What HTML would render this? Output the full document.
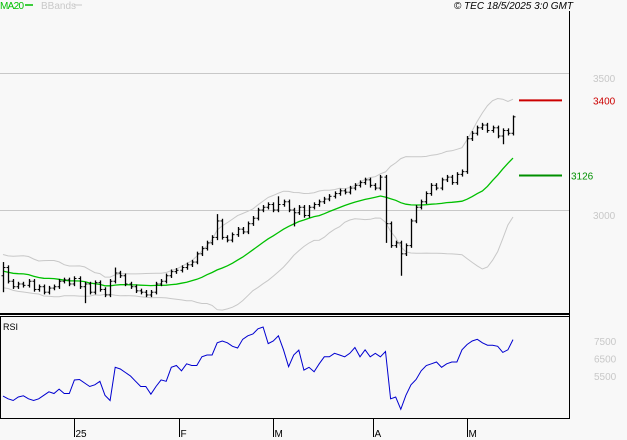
<!DOCTYPE html>
<html><head><meta charset="utf-8"><style>
body{margin:0;background:#f8f8f8;width:627px;height:440px;overflow:hidden;font-family:"Liberation Sans",sans-serif}
svg{display:block}
</style></head><body>
<svg id="c" width="627" height="440" viewBox="0 0 627 440">
<rect x="0" y="0" width="627" height="440" fill="#f8f8f8"/>
<text x="0" y="9" font-size="10" fill="#00c000" textLength="24">MA20</text>
<line x1="25" y1="5" x2="33" y2="5" stroke="#00c000" stroke-width="1.5"/>
<text x="41" y="9" font-size="10" fill="#c8c8c8">BBands</text>
<line x1="74" y1="5" x2="82" y2="5" stroke="#c8c8c8"/>
<text x="573" y="9" font-size="10" font-style="italic" text-anchor="end" fill="#000">© TEC 18/5/2025 3:0 GMT</text>
<line x1="569.5" y1="11" x2="569.5" y2="419" stroke="#000"/>
<g id="grid"></g>
<g id="bands"></g>
<g id="bars"></g>
<rect x="0" y="313" width="569" height="2" fill="#000"/>
<rect x="0.5" y="316.5" width="569" height="102" fill="none" stroke="#000"/>
<text x="3" y="330" font-size="9" fill="#000">RSI</text>
<g id="rsi"></g>
<g id="xaxis"></g>
</svg>
<script>
const pre=[2820,2800,2760,2740,2790,2830,2810,2760,2720,2740,2790,2810,2780,2750,2730,2770,2800,2790,2760];
const closes=[2790,2740,2720,2730,2725,2740,2710,2720,2700,2715,
2720,2740,2745,2730,2750,2720,2730,2700,2735,2710,
2690,2740,2770,2760,2730,2720,2705,2700,2690,2700,
2730,2740,2760,2775,2780,2790,2800,2810,2840,2860,
2880,2900,2960,2900,2890,2910,2930,2920,2950,2970,
3000,3010,3020,3000,3020,3030,3000,2990,3010,2980,
3010,3020,3030,3040,3050,3060,3070,3065,3080,3090,
3100,3110,3090,3080,3120,2950,2870,2880,2840,2870,
2960,3010,3030,3060,3090,3080,3110,3120,3100,3130,
3140,3260,3280,3300,3310,3290,3300,3270,3290,3280,3340];
const barLowIdx=[0,16,42,57,75,78,98];
const barLowVal=[2700,2660,2890,2940,2880,2760,3240];
const barHighIdx=[0,22,42,54,91,100];
const barHighVal=[2810,2790,2985,3050,3270,3345];
const rsiValues=[43.5,42,41,43,43.7,42,41,42,44,46,45,47.5,45,45,52.7,53,51,49,50,52,
44,41,60,59,57,55,52,49,49,44.6,49,52.8,52,60,61,58,62,61,61,66,
67,67,74,75,74,72,71,76,78,79,82,83,73.5,75,78,70,60.3,67,69.8,58.4,
60,57.4,62,66,66,68,67,66,68,71.3,66,70,66,68,66,69,42,43,36,44,
50,53,58,61,62,63,60,62,63,63,70,73,75,76,74,72.6,72.6,72,68.5,70,75.8];
const priceTicks=[3500,3000];
const rsiTicks=[75,65,55];
const dateLabels=["25","F","M","A","M"];
const dateIdx=[14,34.6,53,72.5,91];
const support=3126, resistance=3400;

const NS="http://www.w3.org/2000/svg";
const xOf=i=>3+i*5.1;
const yP=p=>73+(3500-p)*0.274;
const yR=r=>341+(75-r)*1.75;
function mk(tag,attrs,parent){const e=document.createElementNS(NS,tag);for(const k in attrs)e.setAttribute(k,attrs[k]);document.getElementById(parent).appendChild(e);return e;}

priceTicks.forEach(p=>{
  const l=mk('line',{x1:0,x2:569,y1:yP(p)+0.5,y2:yP(p)+0.5,stroke:'#c8c8c8'},'grid');
  
  
  const t=mk('text',{x:593,y:yP(p)+9,'font-size':10,fill:'#c8c8c8'},'grid');t.textContent=p;
  
  
});
[[resistance,'#cc0000',593,'resistance'],[support,'#009000',571,'support']].forEach(([v,c,tx,n])=>{
  const l=mk('line',{x1:519,x2:562,y1:yP(v),y2:yP(v),stroke:c,'stroke-width':2},'grid');
  
  
  const t=mk('text',{x:tx,y:yP(v)+4,'font-size':10,fill:c},'grid');t.textContent=v;
  
  
});

const all=pre.concat(closes);
let ma=[],up=[],lo=[];
for(let i=0;i<closes.length;i++){
  const w=all.slice(i,i+20);const m=w.reduce((a,b)=>a+b,0)/20;
  const sd=Math.sqrt(w.reduce((a,b)=>a+(b-m)*(b-m),0)/20);
  ma.push(m);up.push(m+2*sd);lo.push(m-2*sd);
}
const pts=a=>a.map((v,i)=>xOf(i).toFixed(1)+','+yP(v).toFixed(1)).join(' ');
let e=mk('polyline',{points:pts(up),fill:'none',stroke:'#c8c8c8'},'bands');


e=mk('polyline',{points:pts(lo),fill:'none',stroke:'#c8c8c8'},'bands');


e=mk('polyline',{points:pts(ma),fill:'none',stroke:'#00c000','stroke-width':1.3},'bands');



closes.forEach((c,i)=>{
  const o=i?closes[i-1]:all[18];
  let hi=Math.max(o,c)+8, low=Math.min(o,c)-8;
  const hk=barHighIdx.indexOf(i); if(hk>=0) hi=barHighVal[hk];
  const lk=barLowIdx.indexOf(i); if(lk>=0) low=barLowVal[lk];
  const x=Math.round(xOf(i))+0.5;
  const g=mk('g',{stroke:'#000'},'bars');
  
  
  const a=document.createElementNS(NS,'line');a.setAttribute('x1',x);a.setAttribute('x2',x);a.setAttribute('y1',yP(hi));a.setAttribute('y2',yP(low));a.setAttribute('stroke-width',1.3);g.appendChild(a);
  const b=document.createElementNS(NS,'line');b.setAttribute('x1',x-2);b.setAttribute('x2',x);b.setAttribute('y1',yP(o));b.setAttribute('y2',yP(o));g.appendChild(b);
  const d=document.createElementNS(NS,'line');d.setAttribute('x1',x);d.setAttribute('x2',x+2);d.setAttribute('y1',yP(c));d.setAttribute('y2',yP(c));g.appendChild(d);
});

e=mk('polyline',{points:rsiValues.map((v,i)=>xOf(i).toFixed(1)+','+yR(v).toFixed(1)).join(' '),fill:'none',stroke:'#0000d0'},'rsi');


rsiTicks.forEach(r=>{
  const t=mk('text',{x:594,y:yR(r)+4,'font-size':10,fill:'#c8c8c8'},'rsi');t.textContent=r+'00';
  
  
});

dateLabels.forEach((s,k)=>{
  const x=Math.round(xOf(dateIdx[k]))+0.5;
  const l=mk('line',{x1:x,x2:x,y1:419,y2:437,stroke:'#000'},'xaxis');
  
  
  const t=mk('text',{x:x+1,y:437,'font-size':10,fill:'#000'},'xaxis');t.textContent=s;
  
  
});
</script>
</body></html>
